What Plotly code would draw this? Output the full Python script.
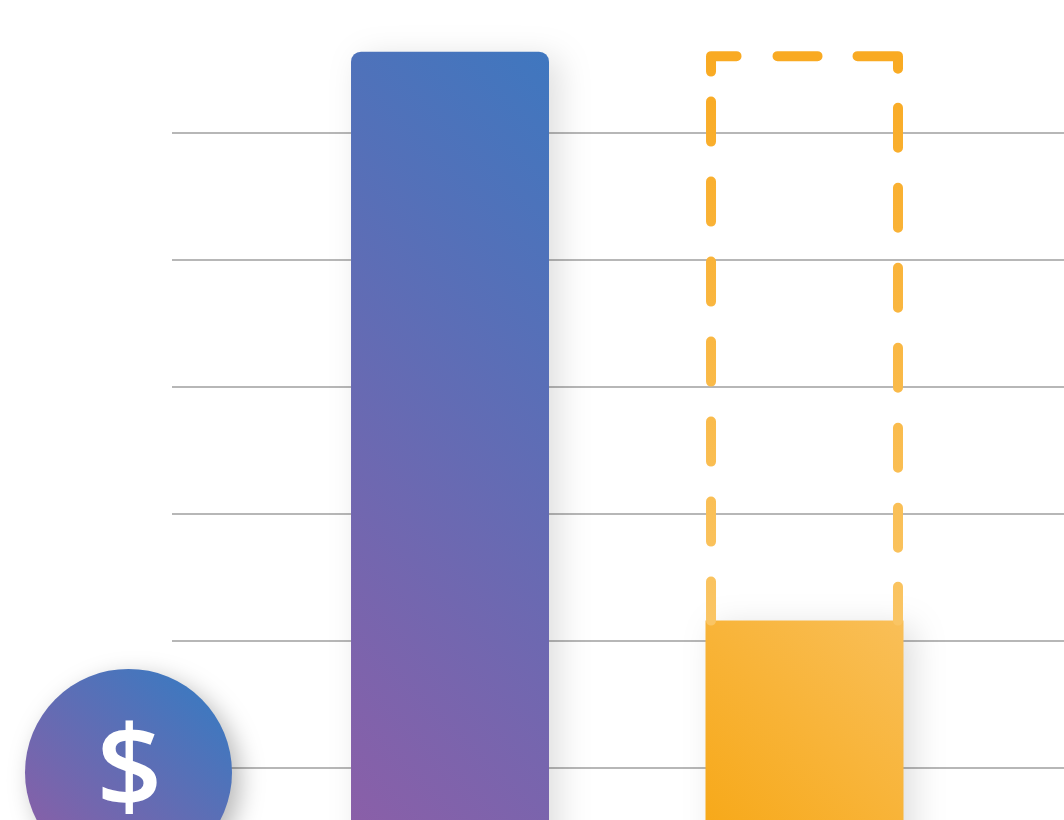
import plotly.graph_objects as go
import numpy as np

categories = ["Goal", "Raised"]
goal_values = [1064, 1064]
raised_value = 616
grid_values = [1000, 900, 800, 700, 600, 500]
icon_label = "$"
icon_value = 496.5
icon_text_value = 492.2

W, H = 1064, 820
x_pos = np.arange(len(categories))
x_range = [-0.7842, 1.732]
y_range = [459.0, 1104.7]
bar_width = 0.5585
dash_half = 0.2637
dash_top = goal_values[1] - 3.5
icon_x = 129.5 / W

# Explicit dash sequence along the outline, starting at the bottom left
dash_seq = [39, 40] + [40, 40] * 5 + [40, 30, 41, 41, 40, 40, 53, 39] + [40, 40] * 5 + [40]
dash_str = ",".join(f"{d}px" for d in dash_seq)

fig = go.Figure()
fig.add_trace(go.Bar(x=[x_pos[0]], y=[goal_values[0]], width=bar_width,
                     marker=dict(color="#5f6bb4", line_width=0, cornerradius=10)))
fig.add_trace(go.Bar(x=[x_pos[1]], y=[raised_value], width=bar_width,
                     marker=dict(color="#f8b02c", line_width=0)))
fig.add_trace(go.Scatter(
    x=[x_pos[1] - dash_half, x_pos[1] - dash_half, x_pos[1] + dash_half, x_pos[1] + dash_half],
    y=[raised_value, dash_top, dash_top, raised_value],
    mode="lines", line=dict(color="#f9ad28", width=10, dash=dash_str), cliponaxis=False))
fig.add_trace(go.Scatter(
    x=[128.5 / W], y=[icon_value], xaxis="x2", yaxis="y2", mode="markers",
    marker=dict(size=207, color="#5f6bb4", line_width=0), cliponaxis=False))
fig.add_trace(go.Scatter(
    x=[icon_x], y=[icon_text_value], xaxis="x2", yaxis="y2", mode="text", text=[icon_label],
    textposition="middle center",
    textfont=dict(family="Open Sans", size=115, weight=600, color="#ffffff"),
    cliponaxis=False))

fig.update_layout(
    width=W, height=H, margin=dict(l=0, r=0, t=0, b=0), showlegend=False,
    paper_bgcolor="#ffffff", plot_bgcolor="rgba(0,0,0,0)", barmode="overlay",
    xaxis=dict(domain=[172 / W, 1], range=x_range, visible=False, fixedrange=True),
    xaxis2=dict(domain=[0, 1], range=[0, 1], anchor="y2", visible=False, fixedrange=True),
    yaxis=dict(range=y_range, tickvals=grid_values, showgrid=True, gridcolor="#b7b7b7",
               gridwidth=2, showticklabels=False, zeroline=False, showline=False,
               ticks="", fixedrange=True),
    yaxis2=dict(range=y_range, anchor="x2", visible=False, fixedrange=True),
)

post = """
document.body.style.margin='0';document.body.style.overflow='hidden';
var svg=document.querySelector('.main-svg');
var ns='http://www.w3.org/2000/svg';
var defs=document.createElementNS(ns,'defs');
function grad(id,user,x1,y1,x2,y2,c1,c2){
  var g=document.createElementNS(ns,'linearGradient');
  g.setAttribute('id',id);
  if(user){g.setAttribute('gradientUnits','userSpaceOnUse');}
  g.setAttribute('x1',x1);g.setAttribute('y1',y1);
  g.setAttribute('x2',x2);g.setAttribute('y2',y2);
  [[0,c1],[1,c2]].forEach(function(s){var t=document.createElementNS(ns,'stop');
    t.setAttribute('offset',s[0]);t.setAttribute('stop-color',s[1]);g.appendChild(t);});
  defs.appendChild(g);
}
grad('gBlue',true,179,820,662,337,'#8a5fa8','#3f77bf');
grad('gOrange',true,534,820,733,621,'#f7a91a','#f9bf58');
grad('gDash',false,0,1,0,0,'#fac564','#f9aa22');
grad('gIcon',false,0.12,0.95,0.88,0.1,'#8c5ea6','#3c79c0');
svg.insertBefore(defs,svg.firstChild);
var bars=document.querySelectorAll('.barlayer .point path');
bars[0].style.fill='url(#gBlue)';
bars[1].style.fill='url(#gOrange)';
bars.forEach(function(b){b.style.filter='drop-shadow(10px 6px 16px rgba(0,0,0,0.13))';});
var line=document.querySelector('.scatterlayer .js-line');
line.style.stroke='url(#gDash)';line.style.strokeLinecap='round';line.style.strokeLinejoin='round';
var m=document.querySelector('.scatterlayer .points .point');
m.style.fill='url(#gIcon)';
m.style.filter='drop-shadow(8px 8px 12px rgba(0,0,0,0.28))';
"""
fig.write_html("out.html", post_script=post, config={"displayModeBar": False})
